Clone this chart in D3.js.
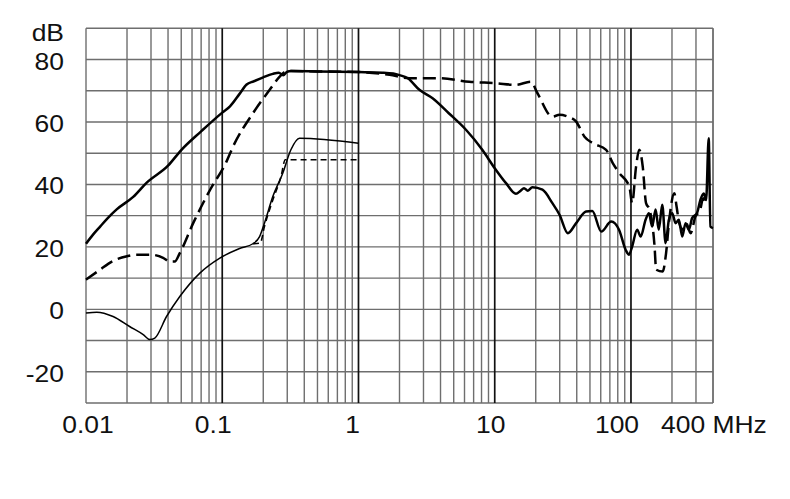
<!DOCTYPE html>
<html>
<head>
<meta charset="utf-8">
<script src="https://cdn.jsdelivr.net/npm/d3@7"></script>
<style>
  html, body { margin: 0; padding: 0; background: #fff; }
  svg { display: block; }
  text { font-family: "Liberation Sans", Arial, sans-serif; fill: #111; }
</style>
</head>
<body>
<svg id="chart" width="790" height="499"></svg>
<script>
// ---- data ----
const xTickValues = [0.01, 0.1, 1, 10, 100, 400];
const xTickLabels = ["0.01", "0.1", "1", "10", "100", "400 MHz"];
const yTickValues = [-20, 0, 20, 40, 60, 80];
const yUnit = "dB";

// thick solid upper curve [MHz, dB]
const solidUpper = [
  [0.01,21],[0.0113,24],[0.0127,26.5],[0.0145,29.3],[0.0168,32],[0.0222,36],
  [0.0278,40.5],[0.04,46],[0.05,51],[0.07,57],[0.1,63],[0.114,65],[0.134,69],[0.151,72],
  [0.17,73],[0.2,74.3],[0.235,75.4],[0.26,75.8],[0.28,75],[0.3,76.1],[0.32,76.3],
  [0.5,76.2],[1,76],[1.5,75.8],[1.8,75.5],[2.0,75],[2.3,74],[2.8,70.3],[3.5,67.6],
  [4.6,62.8],[6.15,57.5],[8.1,51.1],[10,45.2],[12.1,40.4],[14.3,37],[15.5,38],
  [16.4,38.8],[17.5,38],[18.9,39.1],[22.4,38.3],[26.5,34],[29.9,30.3],[34.4,24.4],
  [39.6,27.6],[46.8,31.3],[52,31.5],[60.5,24.9],[71.6,28.1],[81.7,25.5],[91.5,19],
  [96.7,17.5],[102,20.1],[111,25.5],[117.8,23.3],[128,28.7],[135.5,30.8],[143,26.5],
  [151.6,32],[160,25.5],[169.6,33.5],[179.6,21.2],[189.8,28.7],[200.7,30.8],[212.6,27.6],
  [224.7,28.7],[237.8,23.3],[251.6,27.6],[265.7,25.5],[281,29.2],[305,30.8],[323,35],
  [342,37.1],[356,35],[372,54.8],[383,26.5],[400,26]
];

// thick dashed upper curve
const dashedUpper = [
  [0.01,9.5],[0.0125,12.5],[0.0158,15.5],[0.02,17],[0.0235,17.5],[0.03,17.5],
  [0.0368,16.5],[0.0412,15.3],[0.0448,15.3],[0.0488,18],[0.0612,27.6],[0.0815,38.3],
  [0.1074,47.3],[0.12,52.1],[0.168,62.8],[0.223,70.3],[0.264,74.5],[0.287,76],
  [0.32,76.3],[0.5,76.2],[1,76],[1.69,75.1],[2.36,74],[3.92,74],[6.5,72.9],[10.2,72.4],
  [14.3,71.9],[18.4,72.9],[20.6,69.2],[26.5,61.7],[29.9,62.3],[34.4,61.7],[39.6,60.1],
  [45.6,55.3],[52.5,53.2],[65.7,51.1],[73.5,46.8],[82.2,43.6],[97.3,39.3],[102,34],
  [109,45.7],[115,51.1],[122,45.7],[129,34],[137,31.9],[149,20.1],[153,12.7],[171,12.1],
  [181,18],[191,28.7],[208,37.2],[216,33],[226,27.6],[240,25.5],[254,27.6],[274,24.4],
  [297,29.7],[322,31.9],[339,35.6],[357,33]
];

// thin solid lower curve
const solidLower = [
  [0.01,-1.2],[0.012,-0.9],[0.0158,-2.3],[0.0209,-5.5],[0.0263,-8.1],[0.0294,-9.7],
  [0.032,-9.2],[0.039,-2.3],[0.0488,4.1],[0.0685,11.6],[0.096,16.4],[0.134,19.5],
  [0.168,21],[0.188,23.3],[0.204,27.6],[0.235,36.1],[0.278,43.6],[0.319,51.1],
  [0.369,54.8],[1,53.2]
];

// thin dashed lower curve
const dashedLower = [
  [0.168,21],[0.19,21.2],[0.204,26.5],[0.235,35],[0.27,42.5],[0.29,47.9],[1,47.9]
];

// ---- drawing ----
const svg = d3.select("#chart");
const x = d3.scaleLog().domain([0.01, 400]).range([86, 713]);
const y = d3.scaleLinear().domain([-30, 90]).range([403, 28.3]);

// vertical grid values: every k*10^n inside domain
const vGrid = [];
[0.01, 0.1, 1, 10, 100].forEach(d => {
  for (let k = 1; k <= 9; k++) {
    const v = +(d * k).toPrecision(3);
    if (v <= 400) vGrid.push(v);
  }
});
vGrid.push(400);
const decades = [0.1, 1, 10, 100];

const grid = svg.append("g");
grid.selectAll("line.h").data(d3.range(-30, 91, 10)).join("line")
  .attr("x1", x(0.01)).attr("x2", x(400))
  .attr("y1", d => y(d)).attr("y2", d => y(d))
  .attr("stroke", "#6e6e6e").attr("stroke-width", 1.4);
grid.selectAll("line.v").data(vGrid).join("line")
  .attr("x1", d => x(d)).attr("x2", d => x(d))
  .attr("y1", y(-30)).attr("y2", y(90))
  .attr("stroke", d => decades.includes(d) ? "#111" : "#6e6e6e")
  .attr("stroke-width", d => decades.includes(d) ? 1.7 : 1.4);

const line = d3.line().x(d => x(d[0])).y(d => y(d[1])).curve(d3.curveMonotoneX);

svg.append("path").datum(solidLower).attr("d", line)
  .attr("fill", "none").attr("stroke", "#000").attr("stroke-width", 1.5);
svg.append("path").datum(dashedLower).attr("d", line)
  .attr("fill", "none").attr("stroke", "#000").attr("stroke-width", 1.6)
  .attr("stroke-dasharray", "6,4");
svg.append("path").datum(solidUpper).attr("d", line)
  .attr("fill", "none").attr("stroke", "#000").attr("stroke-width", 2.5)
  .attr("stroke-linejoin", "round");
svg.append("path").datum(dashedUpper).attr("d", line)
  .attr("fill", "none").attr("stroke", "#000").attr("stroke-width", 2.5)
  .attr("stroke-dasharray", "13,6");

// labels (text horizontally widened to match the reference lettering)
const fs = 23, sx = 1.15;
const xNudge = {"0.01": 2, "0.1": -9, "1": -6, "10": -4, "100": -14, "400 MHz": 0};
xTickValues.forEach((v, i) => {
  const lbl = xTickLabels[i];
  const isLast = i === xTickValues.length - 1;
  const px = isLast ? 661 : x(v) + xNudge[lbl];
  svg.append("text")
    .attr("transform", `translate(${px},433) scale(${sx},1)`)
    .attr("text-anchor", isLast ? "start" : "middle")
    .attr("font-size", fs).text(lbl);
});
yTickValues.forEach(v => {
  svg.append("text")
    .attr("transform", `translate(64,${y(v) + 10}) scale(${sx},1)`)
    .attr("text-anchor", "end")
    .attr("font-size", fs).text(v);
});
svg.append("text")
  .attr("transform", `translate(64,41) scale(${sx},1)`)
  .attr("text-anchor", "end")
  .attr("font-size", fs).text(yUnit);
</script>
</body>
</html>
